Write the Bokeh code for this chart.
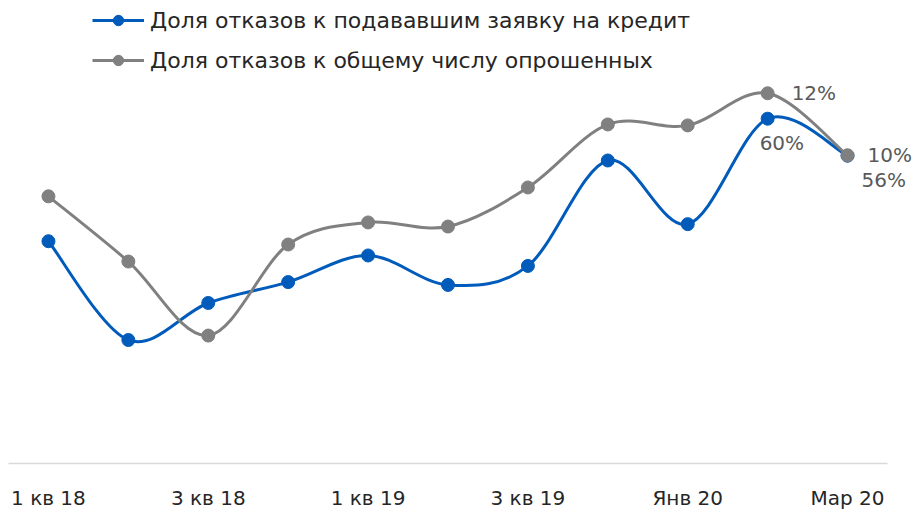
from bokeh.plotting import figure
from bokeh.models import (Range1d, FixedTicker, ColumnDataSource, Legend,
                          LegendItem, LabelSet)
from bokeh.core.properties import value
from bokeh.embed import file_html
from bokeh.resources import INLINE

categories = ["1 кв 18", "2 кв 18", "3 кв 18", "4 кв 18", "1 кв 19", "2 кв 19",
              "3 кв 19", "4 кв 19", "Янв 20", "Фев 20", "Мар 20"]
applicants = [47.0, 36.6, 40.5, 42.7, 45.5, 42.4, 44.4, 55.5, 48.8, 59.9, 56.0]
surveyed = [8.48, 6.41, 4.06, 6.95, 7.65, 7.52, 8.76, 10.76, 10.73, 11.75, 9.78]
name_applicants = "Доля отказов к подававшим заявку на кредит"
name_surveyed = "Доля отказов к общему числу опрошенных"

BLUE = "#005BBB"
GRAY = "#808080"
FONT = "DejaVu Sans"

xs = list(range(len(categories)))
n = len(categories)
AXIS_W = 879        # width of the category area in px
FRAME_W = 906       # frame extends right so end labels are not clipped
x_end = -0.5 + n * FRAME_W / AXIS_W

p = figure(frame_width=FRAME_W, frame_height=455, output_backend="svg", toolbar_location=None,
           x_range=Range1d(-0.5, x_end), y_range=Range1d(0, 14.44),
           min_border_left=8, min_border_right=0, min_border_top=8, min_border_bottom=38)
p.extra_y_ranges = {"appl": Range1d(23.6, 71.5)}
p.outline_line_color = None
p.grid.visible = False
p.yaxis.visible = False
p.background_fill_color = "white"
p.border_fill_color = "white"

xa = p.xaxis[0]
xa.bounds = (-0.5, n - 0.5)
xa.ticker = FixedTicker(ticks=xs[::2])
xa.major_label_overrides = {i: categories[i] for i in xs}
xa.axis_line_color = "#D9D9D9"
xa.axis_line_width = 1.5
xa.major_tick_line_color = None
xa.minor_tick_line_color = None
xa.major_label_text_font = FONT
xa.major_label_text_font_size = "20px"
xa.major_label_text_color = "#262626"
xa.major_label_standoff = 16


def smooth(xv, yv, t=1 / 6):
    m = len(xv)
    d = dict(x0=[], y0=[], x1=[], y1=[], cx0=[], cy0=[], cx1=[], cy1=[])
    for i in range(m - 1):
        im = max(i - 1, 0)
        ip = min(i + 2, m - 1)
        d["x0"].append(xv[i]); d["y0"].append(yv[i])
        d["x1"].append(xv[i + 1]); d["y1"].append(yv[i + 1])
        d["cx0"].append(xv[i] + (xv[i + 1] - xv[im]) * t)
        d["cy0"].append(yv[i] + (yv[i + 1] - yv[im]) * t)
        d["cx1"].append(xv[i + 1] - (xv[ip] - xv[i]) * t)
        d["cy1"].append(yv[i + 1] - (yv[ip] - yv[i]) * t)
    return ColumnDataSource(d)


bz_b = p.bezier(x0="x0", y0="y0", x1="x1", y1="y1", cx0="cx0", cy0="cy0", cx1="cx1", cy1="cy1",
                source=smooth(xs, applicants), line_color=BLUE, line_width=3, y_range_name="appl")
sc_b = p.scatter(xs, applicants, size=13, color=BLUE, y_range_name="appl")

bz_g = p.bezier(x0="x0", y0="y0", x1="x1", y1="y1", cx0="cx0", cy0="cy0", cx1="cx1", cy1="cy1",
                source=smooth(xs, surveyed), line_color=GRAY, line_width=3)
sc_g = p.scatter(xs, surveyed, size=13, color=GRAY)

# data labels on the last two points
lab_g = ColumnDataSource(dict(x=xs[-2:], y=surveyed[-2:],
                              t=[f"{round(v)}%" for v in surveyed[-2:]], dx=[24, 20]))
lab_b = ColumnDataSource(dict(x=xs[-2:], y=applicants[-2:],
                              t=[f"{round(v)}%" for v in applicants[-2:]], dx=[-8, 14]))
p.add_layout(LabelSet(x="x", y="y", text="t", source=lab_g, x_offset="dx", y_offset=0,
                      text_baseline="middle", text_font=value(FONT), text_font_size="20px",
                      text_color="#595959"))
p.add_layout(LabelSet(x="x", y="y", text="t", source=lab_b, x_offset="dx", y_offset=-24,
                      text_baseline="middle", text_font=value(FONT), text_font_size="20px",
                      text_color="#595959", y_range_name="appl"))

legend = Legend(items=[LegendItem(label=name_applicants, renderers=[bz_b, sc_b]),
                       LegendItem(label=name_surveyed, renderers=[bz_g, sc_g])],
                location=(84, 390), orientation="vertical", border_line_color=None,
                background_fill_alpha=0, padding=0, margin=0, spacing=14,
                glyph_width=52, glyph_height=26, label_height=26, label_standoff=6,
                label_text_font=FONT, label_text_font_size="22px", label_text_color="#262626")
p.add_layout(legend)

open("out.html", "w").write(file_html(p, INLINE))
